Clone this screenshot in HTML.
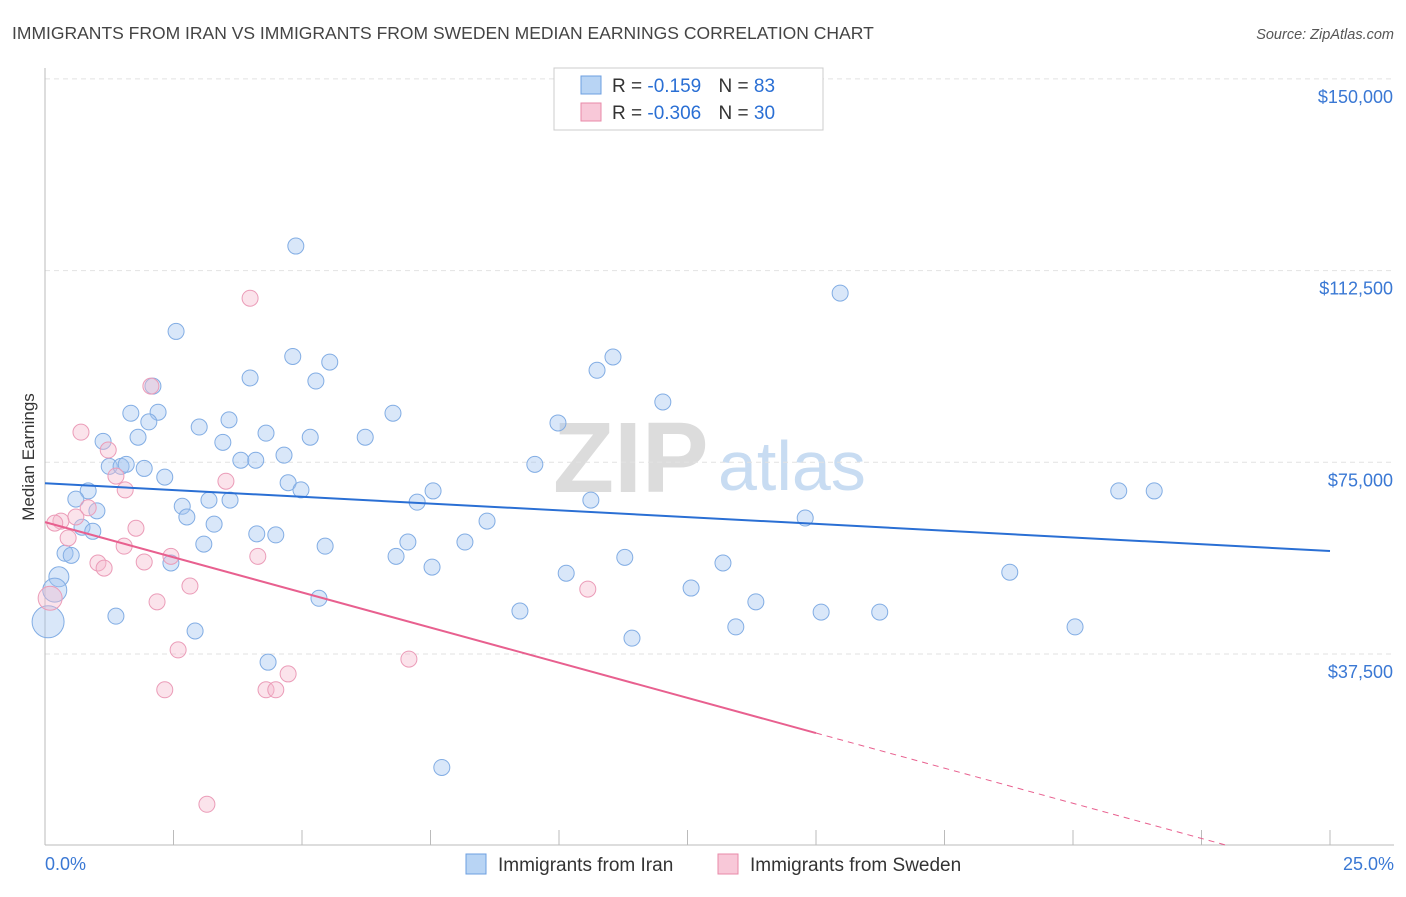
<!DOCTYPE html>
<html><head><meta charset="utf-8"><style>
body{margin:0;background:#fff;font-family:"Liberation Sans",sans-serif;}
svg text{font-family:"Liberation Sans",sans-serif;}
</style></head><body>
<svg id="chart" width="1406" height="892" xmlns="http://www.w3.org/2000/svg">
<text x="12" y="39" font-size="17.5" fill="#444">IMMIGRANTS FROM IRAN VS IMMIGRANTS FROM SWEDEN MEDIAN EARNINGS CORRELATION CHART</text>
<text x="1394" y="39" font-size="14.5" fill="#555" text-anchor="end" font-style="italic">Source: ZipAtlas.com</text>
<g>
<text x="553" y="492" font-size="100" fill="#dcdcdc" font-family="Liberation Serif" font-weight="bold">ZIP</text>
<text x="718" y="490" font-size="70" fill="#c8dcf2">atlas</text>
</g>
<g id="grid"></g><g id="axes"></g><g id="marks"></g>
<text transform="translate(34,457) rotate(-90)" font-size="17" fill="#333" text-anchor="middle">Median Earnings</text>
<g>
<rect x="554" y="68" width="269" height="62" fill="#fff" stroke="#ccc"/>
<rect x="581" y="76" width="20" height="18" fill="#b8d4f4" stroke="#6d9fe0"/>
<rect x="581" y="103" width="20" height="18" fill="#f8c8d8" stroke="#e88aa8"/>
<text x="612" y="92" font-size="19" fill="#333">R = <tspan fill="#2a6fd4"> -0.159</tspan>   <tspan dx="12">N = </tspan><tspan fill="#2a6fd4">83</tspan></text>
<text x="612" y="119" font-size="19" fill="#333">R = <tspan fill="#2a6fd4">-0.306</tspan>   <tspan dx="12">N = </tspan><tspan fill="#2a6fd4">30</tspan></text>
</g>
<g>
<rect x="466" y="854" width="20" height="20" fill="#b8d4f4" stroke="#6d9fe0"/>
<text x="498" y="871" font-size="19" fill="#333">Immigrants from Iran</text>
<rect x="718" y="854" width="20" height="20" fill="#f8c8d8" stroke="#e88aa8"/>
<text x="750" y="871" font-size="19" fill="#333">Immigrants from Sweden</text>
</g>
</svg>
<script>
const yTicks=[37500,75000,112500,150000];
const yTickLabels=["$37,500","$75,000","$112,500","$150,000"];
const xTickLabels=["0.0%","25.0%"];
const iranX=[4.88,15.47,2.55,4.82,5.54,11.05,10.74,3.99,5.27,2.10,12.02,1.67,2.20,6.77,3.58,2.02,3.00,9.98,4.30,1.13,1.81,3.46,5.16,6.23,4.65,3.81,4.10,1.25,1.48,1.58,1.93,9.53,2.33,4.73,4.98,7.55,20.89,21.58,0.84,0.60,3.19,3.60,7.24,10.62,2.67,1.01,2.76,8.60,14.79,3.29,0.72,0.93,4.12,4.49,3.09,5.45,7.06,8.17,0.39,0.51,6.83,11.28,2.45,13.19,7.53,10.14,18.77,0.27,0.19,12.57,5.33,13.83,9.24,15.10,16.24,1.38,13.44,20.04,2.92,11.42,4.34,7.72,0.06];
const iranY=[117300,108100,100600,95700,94600,95600,93000,91500,90900,89900,86800,84600,84800,84600,83300,82900,81900,82700,80700,79100,79900,78900,79900,79900,76400,75400,75400,74200,74200,74600,73800,74600,72100,71000,69600,69400,69400,69400,69400,67800,67600,67600,67200,67600,66400,65500,64300,63500,64100,62900,62300,61500,61000,60800,59000,58600,59400,59400,57200,56800,56600,56400,55300,55300,54500,53300,53500,52600,50000,50400,48400,47700,45900,45700,45700,44900,42800,42800,42000,40600,35900,15300,43800];
const iranR=[8,8,8,8,8,8,8,8,8,8,8,8,8,8,8,8,8,8,8,8,8,8,8,8,8,8,8,8,8,8,8,8,8,8,8,8,8,8,8,8,8,8,8,8,8,8,8,8,8,8,8,8,8,8,8,8,8,8,8,8,8,8,8,8,8,8,8,10,12,8,8,8,8,8,8,8,8,8,8,8,8,8,16];
const swedX=[3.99,2.06,0.70,1.23,1.38,3.52,1.56,0.84,0.60,0.31,0.19,1.77,0.45,1.54,2.45,4.14,1.93,1.03,1.15,2.82,10.56,0.10,2.18,2.59,7.08,4.73,2.33,4.30,4.49,3.15];
const swedY=[107100,89900,80900,77400,72300,71300,69600,66100,64300,63500,63100,62100,60200,58600,56600,56600,55500,55300,54300,50800,50200,48400,47700,38300,36500,33600,30500,30500,30500,8100];
const swedR=[8,8,8,8,8,8,8,8,8,8,8,8,8,8,8,8,8,8,8,8,8,12,8,8,8,8,8,8,8,8];
const iranTrend=[70900,57650];
const swedTrend=[63300,22040,-5450];
const X0=45,X1=1330,YB=845.7,PX=191.7/37500;
const sx=v=>X0+(X1-X0)*v/25, sy=v=>YB-v*PX;
const NS="http://www.w3.org/2000/svg";
function mk(t,p,a){const e=document.createElementNS(NS,t);for(const k in a)e.setAttribute(k,a[k]);p.appendChild(e);return e;}
const grid=document.getElementById('grid'),axes=document.getElementById('axes'),marks=document.getElementById('marks');
yTicks.forEach((v,i)=>{
 const l=mk('line',grid,{x1:45,x2:1394,y1:sy(v),y2:sy(v),stroke:'#e2e2e2','stroke-dasharray':'5,4'});
 
 
 const t=mk('text',axes,{x:1393,y:sy(v)+24,'font-size':18,fill:'#3a78d4','text-anchor':'end'});
 t.textContent=yTickLabels[i];
 
 
});
const ax=mk('line',axes,{x1:45,x2:1394,y1:845,y2:845,stroke:'#bbb'});


const ay=mk('line',axes,{x1:45,x2:45,y1:68,y2:845,stroke:'#bbb'});


for(let i=0;i<=10;i++){
 const tk=mk('line',axes,{x1:sx(i*2.5),x2:sx(i*2.5),y1:830,y2:845,stroke:'#bbb'});
 
 
}
[[0,'start',45],[1,'end',1394]].forEach(([i,a,x])=>{
 const t=mk('text',axes,{x:x,y:870,'font-size':18,fill:'#3a78d4','text-anchor':a});
 t.textContent=xTickLabels[i];
 
 
});
iranX.forEach((x,i)=>{
 const c=mk('circle',marks,{cx:sx(x),cy:sy(iranY[i]),r:iranR[i],fill:'rgba(160,196,240,0.4)',stroke:'#82ade4','stroke-width':1});
 
 
});
swedX.forEach((x,i)=>{
 const c=mk('circle',marks,{cx:sx(x),cy:sy(swedY[i]),r:swedR[i],fill:'rgba(246,184,204,0.4)',stroke:'#eb9cb8','stroke-width':1});
 
 
});
const bt=mk('line',marks,{x1:sx(0),y1:sy(iranTrend[0]),x2:sx(25),y2:sy(iranTrend[1]),stroke:'#2a6fd4','stroke-width':2});


const pt=mk('line',marks,{x1:sx(0),y1:sy(swedTrend[0]),x2:sx(15),y2:sy(swedTrend[1]),stroke:'#e8608f','stroke-width':2});


const slope=(swedTrend[2]-swedTrend[1])/10;
const xEnd=15+(0-swedTrend[1])/slope;
const pd=mk('line',marks,{x1:sx(15),y1:sy(swedTrend[1]),x2:sx(Math.min(25,xEnd)),y2:sy(Math.max(0,swedTrend[2])),stroke:'#e8608f','stroke-width':1,'stroke-dasharray':'6,5'});


</script>
</body></html>
